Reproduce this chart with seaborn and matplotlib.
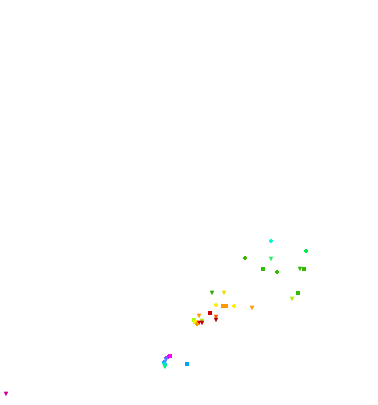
import matplotlib
matplotlib.use("Agg")
import matplotlib.pyplot as plt
import seaborn as sns
import pandas as pd

# values (x, y in chart units)
x_vals = [6, 170, 168, 166, 166, 164, 165, 164, 165, 187,
          210, 199, 216, 216, 194, 195, 202, 199, 202, 197,
          212, 224, 216, 223, 226, 234, 252,
          271, 306, 245, 271, 263, 277, 300, 304, 298, 292]
y_vals = [11, 49, 48, 47, 45, 43, 41, 40, 38, 41,
          92, 89, 88, 85, 85, 83, 84, 82, 82, 81,
          112, 112, 100, 99, 99, 99, 97,
          164, 154, 147, 146, 136, 133, 136, 136, 112, 106]
shape = ["v", "s", "P", "P", "v", "P", "P", "v", "v", "s",
         "s", "v", "v", "v", "s", "s", "v", "v", "v", "P",
         "v", "v", "P", "s", "s", "P", "v",
         "P", "P", "P", "v", "s", "P", "v", "s", "s", "v"]
colors = ["#cc0099", "#ff00ff", "#ee00ff", "#9944ff", "#4488ff", "#3399ff", "#00bbff", "#00eecc", "#00ee88", "#00a0ff",
          "#cc0000", "#ff9900", "#ff5500", "#aa0000", "#aaff00", "#ffee00", "#aaee00", "#dd0000", "#bb0000", "#ff9900",
          "#33aa00", "#eedd00", "#ffee00", "#ff9900", "#ff9900", "#ffee00", "#ff9900",
          "#00ffcc", "#00ee44", "#33bb00", "#33ee66", "#33bb00", "#33bb00", "#33bb00", "#33bb00", "#33bb00", "#aaee00"]

df = pd.DataFrame({"x": x_vals, "y": y_vals, "shape": shape,
                   "pid": [str(i) for i in range(len(x_vals))]})

fig = plt.figure(figsize=(3.78, 4.06), dpi=100)
ax = fig.add_axes([0, 0, 1, 1])
sns.scatterplot(data=df, x="x", y="y", hue="pid", palette=colors,
                style="shape", markers={"P": "P", "s": "s", "v": "v"},
                s=11, linewidth=0, legend=False, ax=ax)
ax.set_xlim(0, 378)
ax.set_ylim(0, 406)
ax.axis("off")
fig.savefig("out.png", dpi=100, facecolor="white")
